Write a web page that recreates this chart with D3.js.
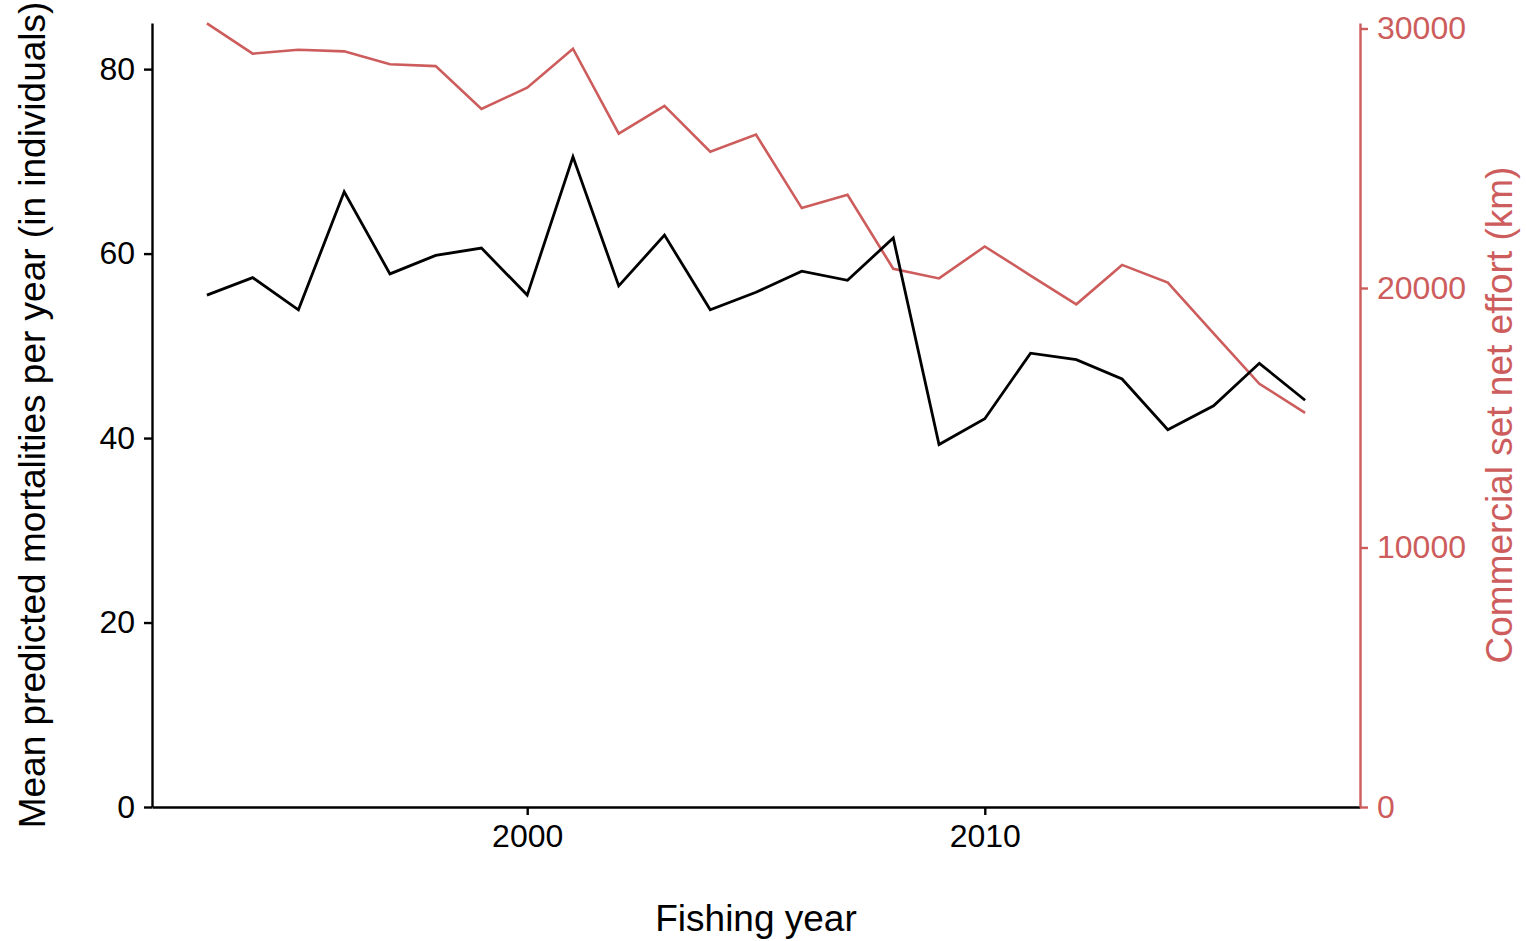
<!DOCTYPE html>
<html>
<head>
<meta charset="utf-8">
<script src="https://cdn.jsdelivr.net/npm/d3@7"></script>
<style>
  html, body { margin: 0; padding: 0; background: #fff; }
  svg { display: block; font-family: "Liberation Sans", Arial, Helvetica, sans-serif; }
</style>
</head>
<body>
<svg id="chart" width="1526" height="941"></svg>
<script>
// Fishing years covered by both series
const years = [1993, 1994, 1995, 1996, 1997, 1998, 1999, 2000, 2001, 2002, 2003, 2004, 2005,
               2006, 2007, 2008, 2009, 2010, 2011, 2012, 2013, 2014, 2015, 2016, 2017];

// Mean predicted mortalities per year (individuals)
const mortalities = [55.5, 57.4, 53.9, 66.7, 57.8, 59.8, 60.6, 55.5, 70.5, 56.5, 62.0, 53.9, 55.8,
                     58.1, 57.1, 61.7, 39.3, 42.1, 49.2, 48.5, 46.4, 40.9, 43.5, 48.1, 44.1];

// Commercial set net effort (km)
const effort = [30200, 29030, 29180, 29120, 28620, 28550, 26900, 27720, 29220, 25950, 27020, 25250, 25910,
                23080, 23590, 20740, 20370, 21600, 20480, 19370, 20890, 20210, 18250, 16310, 15190];

const xTicks = [2000, 2010];
const leftTicks = [0, 20, 40, 60, 80];
const rightTicks = [0, 10000, 20000, 30000];

const leftTitle = "Mean predicted mortalities per year (in individuals)";
const rightTitle = "Commercial set net effort (km)";
const xTitle = "Fishing year";

const red = "#CD5C5C";

const svg = d3.select("#chart");
const margin = { left: 152, right: 1526 - 1360, top: 23, bottom: 941 - 807 };
const W = 1526, H = 941;

const x = d3.scaleLinear().domain([1991.8, 2018.2]).range([margin.left, W - margin.right]);
const yL = d3.scaleLinear().domain([0, 85]).range([H - margin.bottom, margin.top]);
const yR = d3.scaleLinear().domain([0, 30212]).range([H - margin.bottom, margin.top]);

const fontTick = 32;
const fontTitle = 37;

// Lines
const lineL = d3.line().x((d, i) => x(years[i])).y(d => yL(d));
const lineR = d3.line().x((d, i) => x(years[i])).y(d => yR(d));

svg.append("path").datum(effort)
  .attr("d", lineR).attr("fill", "none")
  .attr("stroke", red).attr("stroke-width", 2.6).attr("stroke-linejoin", "miter");

svg.append("path").datum(mortalities)
  .attr("d", lineL).attr("fill", "none")
  .attr("stroke", "#000").attr("stroke-width", 2.8).attr("stroke-linejoin", "miter");

// Axes
function styleAxis(g, color) {
  g.selectAll(".domain").attr("stroke", color).attr("stroke-width", 2.4);
  g.selectAll(".tick line").attr("stroke", color).attr("stroke-width", 2.4);
  g.selectAll(".tick text").attr("fill", color)
    .style("font-size", fontTick + "px")
    .style("font-family", '"Liberation Sans", Arial, Helvetica, sans-serif');
}

const gx = svg.append("g")
  .attr("transform", `translate(0,${H - margin.bottom})`)
  .call(d3.axisBottom(x).tickValues(xTicks).tickFormat(d3.format("d"))
        .tickSizeInner(8).tickSizeOuter(0).tickPadding(9));
styleAxis(gx, "#000");

const gl = svg.append("g")
  .attr("transform", `translate(${margin.left},0)`)
  .call(d3.axisLeft(yL).tickValues(leftTicks).tickFormat(d3.format("d"))
        .tickSizeInner(8).tickSizeOuter(0).tickPadding(9));
styleAxis(gl, "#000");

const gr = svg.append("g")
  .attr("transform", `translate(${W - margin.right},0)`)
  .call(d3.axisRight(yR).tickValues(rightTicks).tickFormat(d3.format("d"))
        .tickSizeInner(8).tickSizeOuter(0).tickPadding(9));
styleAxis(gr, red);

// Titles
svg.append("text")
  .attr("x", (margin.left + W - margin.right) / 2)
  .attr("y", 931)
  .attr("text-anchor", "middle")
  .style("font-size", fontTitle + "px")
  .attr("fill", "#000")
  .text(xTitle);

const midY = (margin.top + H - margin.bottom) / 2;

svg.append("text")
  .attr("transform", `translate(45,${midY}) rotate(-90)`)
  .attr("text-anchor", "middle")
  .style("font-size", fontTitle + "px")
  .attr("fill", "#000")
  .text(leftTitle);

svg.append("text")
  .attr("transform", `translate(1512,${midY}) rotate(-90)`)
  .attr("text-anchor", "middle")
  .style("font-size", fontTitle + "px")
  .attr("fill", red)
  .text(rightTitle);
</script>
</body>
</html>
